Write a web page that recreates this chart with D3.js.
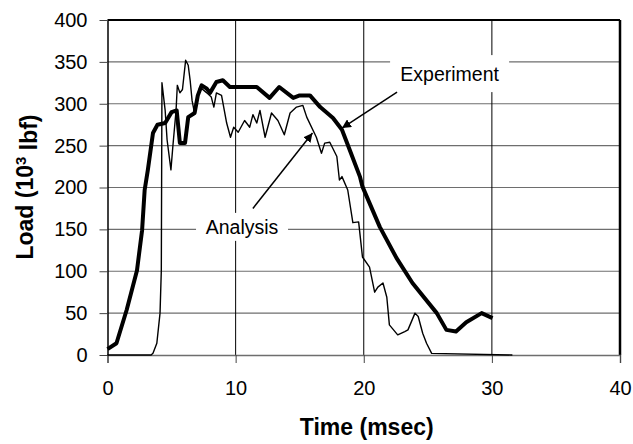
<!DOCTYPE html>
<html>
<head>
<meta charset="utf-8">
<script src="https://cdn.jsdelivr.net/npm/d3@7"></script>
<style>
body { margin: 0; background: #fff; }
text { font-family: "Liberation Sans", Arial, sans-serif; fill: #000; }
</style>
</head>
<body>
<svg width="633" height="444"></svg>
<script>
/* Chart data */
var xTicks = [0, 10, 20, 30, 40];
var yTicks = [0, 50, 100, 150, 200, 250, 300, 350, 400];

var expTime = [0, 0.7, 1.5, 2.3, 2.7, 2.9, 3.15, 3.55, 3.9, 4.5, 5.0, 5.4, 5.65, 6.05, 6.3, 6.8, 7.05, 7.35, 7.75, 8.0, 8.5, 9.0, 9.55, 10.5, 11.65, 12.65, 13.4, 14.5, 15.0, 15.8, 16.6, 17.6, 18.3, 18.9, 19.7, 19.9, 21.25, 22.55, 23.8, 25.7, 26.45, 27.2, 28.0, 29.2, 30.05];
var expLoad = [7, 14, 54, 101, 149, 197, 221, 265, 275, 277, 290, 292, 253, 253, 284, 289, 310, 322, 318, 313, 326, 328, 320, 320, 320, 307, 320, 307, 310, 310, 296, 283, 269, 245, 213, 201, 153, 116, 86, 50, 30, 28, 39, 50, 44];

var anaTime = [0, 3.4, 3.55, 3.85, 4.1, 4.2, 4.25, 4.5, 4.65, 4.95, 5.1, 5.35, 5.45, 5.65, 5.85, 6.1, 6.3, 6.45, 6.6, 6.75, 6.95, 7.2, 7.75, 8.1, 8.3, 8.5, 8.9, 9.3, 9.6, 9.85, 10.2, 10.7, 11.1, 11.35, 11.65, 11.9, 12.3, 12.8, 13.3, 13.8, 14.25, 14.75, 15.25, 15.55, 16.3, 16.7, 16.95, 17.35, 17.9, 18.1, 18.3, 18.75, 19.15, 19.6, 19.9, 20.45, 20.85, 21.1, 21.5, 21.8, 22.0, 22.65, 23.2, 23.45, 24.0, 24.25, 24.6, 24.9, 25.3, 31.6];
var anaLoad = [0, 0, 2, 14, 50, 101, 325, 292, 257, 221, 249, 292, 322, 313, 317, 352, 346, 328, 304, 292, 304, 320, 313, 308, 296, 313, 310, 277, 260, 272, 266, 280, 272, 287, 277, 292, 260, 289, 280, 263, 289, 296, 298, 284, 260, 241, 253, 254, 237, 209, 213, 197, 158, 159, 117, 105, 75, 81, 86, 69, 36, 24, 28, 30, 50, 46, 26, 14, 2, 0];

var svg = d3.select("svg"),
    margin = {top: 20, right: 13, bottom: 89, left: 107.5},
    width = +svg.attr("width") - margin.left - margin.right,
    height = +svg.attr("height") - margin.top - margin.bottom;

var x = d3.scaleLinear().domain([0, 40]).range([0, width]),
    y = d3.scaleLinear().domain([0, 400]).range([height, 0]);

var g = svg.append("g")
    .attr("transform", "translate(" + margin.left + "," + margin.top + ")");

svg.append("defs").append("marker")
    .attr("id", "head")
    .attr("viewBox", "0 0 10 10")
    .attr("refX", 10).attr("refY", 5)
    .attr("markerWidth", 9).attr("markerHeight", 9)
    .attr("markerUnits", "userSpaceOnUse")
    .attr("orient", "auto")
    .append("path").attr("d", "M0,0L10,5L0,10z").attr("fill", "#000");

/* grid */
g.selectAll(".hgrid")
    .data(yTicks.slice(1))
    .enter().append("line")
    .attr("x1", 0).attr("x2", width)
    .attr("y1", function (d) { return y(d); })
    .attr("y2", function (d) { return y(d); })
    .attr("stroke", function (d) { return d === 400 ? "#000" : "#6e6e6e"; })
    .attr("stroke-width", function (d) { return d === 400 ? 2 : 1.2; });

g.selectAll(".vgrid")
    .data(xTicks.slice(1))
    .enter().append("line")
    .attr("y1", 0).attr("y2", height)
    .attr("x1", function (d) { return x(d); })
    .attr("x2", function (d) { return x(d); })
    .attr("stroke", "#000")
    .attr("stroke-width", function (d) { return d === 40 ? 2.5 : 1; });

/* axes */
var xAxis = g.append("g")
    .attr("transform", "translate(0," + height + ")")
    .call(d3.axisBottom(x).tickValues(xTicks).tickSize(8).tickPadding(18));
xAxis.select(".domain").attr("stroke", "#6e6e6e").attr("stroke-width", 1.5);
xAxis.selectAll("line").attr("stroke", "#444");

var yAxis = g.append("g")
    .call(d3.axisLeft(y).tickValues(yTicks).tickSize(8).tickPadding(12).tickSizeOuter(0));
yAxis.select(".domain").attr("stroke", "#000").attr("stroke-width", 1.5);
yAxis.selectAll("line").attr("stroke", "#444");

svg.selectAll(".tick text")
    .style("font-size", "20px")
    .style("font-family", "'Liberation Sans', Arial, sans-serif");

/* series */
var expData = expTime.map(function (t, i) { return [t, expLoad[i]]; });
var anaData = anaTime.map(function (t, i) { return [t, anaLoad[i]]; });

var line = d3.line()
    .x(function (d) { return x(d[0]); })
    .y(function (d) { return y(d[1]); });

g.append("path")
    .datum(anaData)
    .attr("fill", "none")
    .attr("stroke", "#000")
    .attr("stroke-width", 1.4)
    .attr("stroke-linejoin", "round")
    .attr("d", line);

g.append("path")
    .datum(expData)
    .attr("fill", "none")
    .attr("stroke", "#000")
    .attr("stroke-width", 4)
    .attr("stroke-linejoin", "round")
    .attr("d", line);

/* callouts */
function callout(label, cx, cy, bw, bh, ax1, ay1, ax2, ay2) {
    g.append("rect")
        .attr("x", x(cx) - bw / 2).attr("y", y(cy) - bh / 2)
        .attr("width", bw).attr("height", bh)
        .attr("fill", "#fff");
    g.append("text")
        .attr("x", x(cx)).attr("y", y(cy))
        .attr("dy", "0.36em")
        .attr("text-anchor", "middle")
        .style("font-size", "19.5px")
        .text(label);
    g.append("line")
        .attr("x1", x(ax1)).attr("y1", y(ay1))
        .attr("x2", x(ax2)).attr("y2", y(ay2))
        .attr("stroke", "#000").attr("stroke-width", 1.5)
        .attr("marker-end", "url(#head)");
}
callout("Experiment", 26.7, 336, 119, 37, 22.6, 314, 18.3, 271);
callout("Analysis", 10.5, 153, 92, 28, 11.35, 175, 16.0, 265);

/* axis titles */
svg.append("text")
    .attr("x", margin.left + width / 2 + 3)
    .attr("y", 435)
    .attr("text-anchor", "middle")
    .style("font-size", "23px")
    .style("font-weight", "bold")
    .text("Time (msec)");

var yl = svg.append("text")
    .attr("transform", "translate(33,187)rotate(-90)")
    .attr("text-anchor", "middle")
    .style("font-size", "23px")
    .style("font-weight", "bold");
yl.append("tspan").text("Load (10");
yl.append("tspan").attr("dy", "-0.45em").style("font-size", "15px").text("3");
yl.append("tspan").attr("dy", "0.45em").text(" lbf)");
</script>
</body>
</html>
